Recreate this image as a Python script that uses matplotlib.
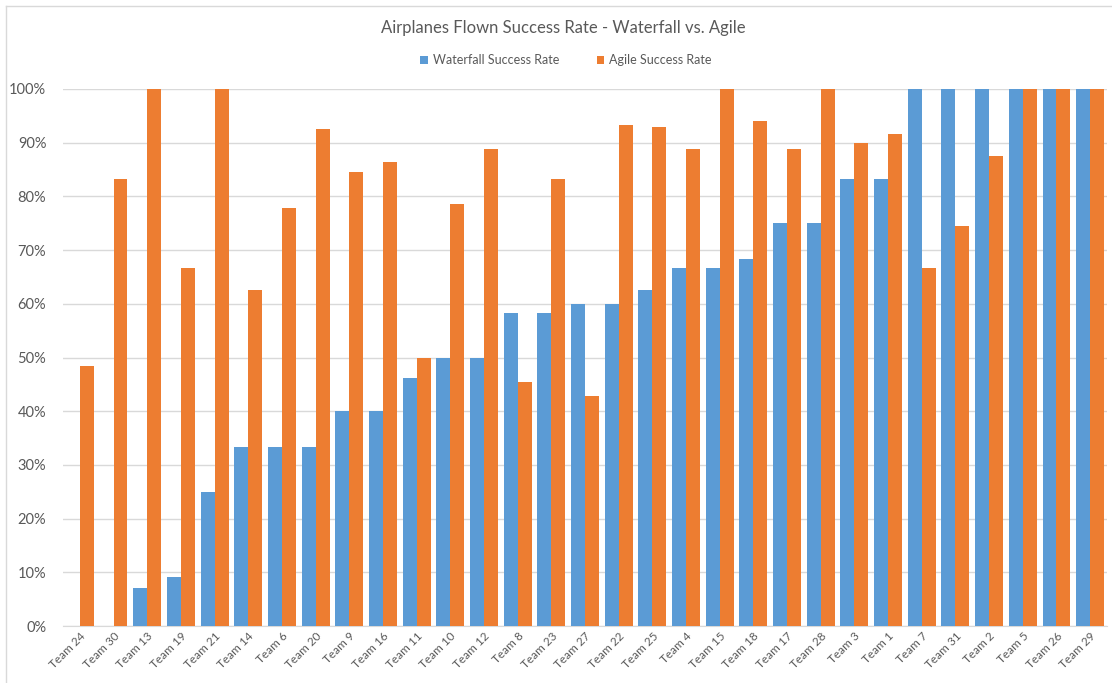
import matplotlib
matplotlib.use("Agg")
import matplotlib.pyplot as plt
import numpy as np
from matplotlib.lines import Line2D

teams = ["Team 24", "Team 30", "Team 13", "Team 19", "Team 21", "Team 14", "Team 6",
         "Team 20", "Team 9", "Team 16", "Team 11", "Team 10", "Team 12", "Team 8",
         "Team 23", "Team 27", "Team 22", "Team 25", "Team 4", "Team 15", "Team 18",
         "Team 17", "Team 28", "Team 3", "Team 1", "Team 7", "Team 31", "Team 2",
         "Team 5", "Team 26", "Team 29"]
waterfall = [0, 0, 7.1, 9.1, 25.0, 33.3, 33.3, 33.3, 40.0, 40.0, 46.2, 50.0, 50.0, 58.3,
             58.3, 60.0, 60.0, 62.5, 66.7, 66.7, 68.4, 75.0, 75.0, 83.3, 83.3, 100, 100,
             100, 100, 100, 100]
agile = [48.4, 83.3, 100, 66.7, 100, 62.5, 77.8, 92.6, 84.6, 86.4, 50.0, 78.6, 88.9, 45.5,
         83.3, 42.9, 93.3, 92.9, 88.9, 100, 94.1, 88.9, 100, 90.0, 91.7, 66.7, 74.4,
         87.5, 100, 100, 100]

plt.rcParams['font.family'] = ['Lato', 'DejaVu Sans']
W, H = 1112, 683
fig = plt.figure(figsize=(W / 100, H / 100), dpi=100)
fig.patch.set_facecolor('white')

x0, x1, y0, y1 = 63, 1107, 626, 89
ax = fig.add_axes([x0 / W, 1 - y0 / H, (x1 - x0) / W, (y0 - y1) / H])

blue = '#5b9bd5'
orange = '#ed7d31'
n = len(teams)
x = np.arange(n)
bw = 0.415
ax.bar(x - bw / 2, np.array(waterfall) / 100, width=bw, color=blue,
       label='Waterfall Success Rate', zorder=3)
ax.bar(x + bw / 2, np.array(agile) / 100, width=bw, color=orange,
       label='Agile Success Rate', zorder=3)

ax.set_xlim(-0.5, n - 0.5)
ax.set_ylim(0, 1)
yt = np.arange(0, 1.01, 0.1)
ax.set_yticks(yt)
ax.set_yticklabels([f"{int(round(v * 100))}%" for v in yt], color='#595959', fontsize=10.5)
ax.yaxis.grid(True, color='#d9d9d9', linewidth=1, zorder=0)
ax.set_axisbelow(True)
for s in ['top', 'right', 'left']:
    ax.spines[s].set_visible(False)
ax.spines['bottom'].set_color('#d9d9d9')
ax.tick_params(axis='y', length=0, pad=12)
ax.tick_params(axis='x', length=0, pad=3)
ax.set_xticks(x)
ax.set_xticklabels(teams, rotation=45, ha='right', rotation_mode='anchor',
                   color='#595959', fontsize=8.5)

fig.text(563 / W, 1 - 28 / H, 'Airplanes Flown Success Rate - Waterfall vs. Agile',
         ha='center', va='center', fontsize=12, color='#595959')

leg = fig.legend(loc='center', bbox_to_anchor=(566 / W, 1 - 60 / H), ncol=2,
                 frameon=False, fontsize=9, handlelength=0.6, handleheight=0.6,
                 columnspacing=3.0, handletextpad=0.4)
for t in leg.get_texts():
    t.set_color('#595959')

# outer chart border (top and left visible)
fig.add_artist(Line2D([5.5 / W, 5.5 / W], [0, 1 - 5.5 / H], transform=fig.transFigure,
                      color='#d9d9d9', linewidth=1))
fig.add_artist(Line2D([5.5 / W, 1], [1 - 5.5 / H, 1 - 5.5 / H], transform=fig.transFigure,
                      color='#d9d9d9', linewidth=1))

fig.savefig('out.png', dpi=100, facecolor='white')
